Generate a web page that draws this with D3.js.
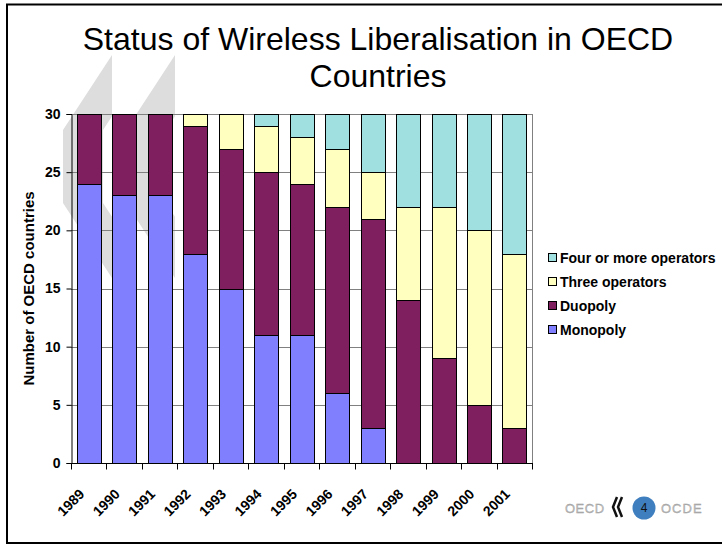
<!DOCTYPE html>
<html>
<head>
<meta charset="utf-8">
<script src="https://cdn.jsdelivr.net/npm/d3@7"></script>
<style>
  body { margin: 0; background: #fff; }
  svg { display: block; font-family: Arial, "Liberation Sans", sans-serif; }
</style>
</head>
<body>
<svg id="chart" width="722" height="545"></svg>
<script>
const years = ["1989", "1990", "1991", "1992", "1993", "1994", "1995", "1996", "1997", "1998", "1999", "2000", "2001"];
const monopoly = [24, 23, 23, 18, 15, 11, 11, 6, 3, 0, 0, 0, 0];
const duopoly = [6, 7, 7, 11, 12, 14, 13, 16, 18, 14, 9, 5, 3];
const threeOps = [0, 0, 0, 1, 3, 4, 4, 5, 4, 8, 13, 15, 15];
const fourOps = [0, 0, 0, 0, 0, 1, 2, 3, 5, 8, 8, 10, 12];
const yTicks = [0, 5, 10, 15, 20, 25, 30];

const seriesNames = ["Monopoly", "Duopoly", "Three operators", "Four or more operators"];
const seriesColors = ["#8080ff", "#801f60", "#ffffc0", "#a0e0e0"];

let svg = d3.select("#chart");
let margin = { top: 114, left: 71, right: 190, bottom: 82 };
let width = 722, height = 545;

// frame
svg.append("rect")
  .attr("x", 7).attr("y", 4.5)
  .attr("width", 722).attr("height", 538.5)
  .attr("fill", "none").attr("stroke", "#000").attr("stroke-width", 2);

// title
let title = svg.append("text")
  .attr("text-anchor", "middle")
  .attr("font-size", 32)
  .attr("fill", "#000");
title.append("tspan").attr("x", 378).attr("y", 50).text("Status of Wireless Liberalisation in OECD");
title.append("tspan").attr("x", 378).attr("y", 87).text("Countries");

// background chevrons (logo decoration)
let t = 40;
let chev = [[49, 0], [0, 75], [0, 148], [49, 223], [49, 148 + 75 * (49 - t) / 49], [t, 148], [t, 75], [49, 75 - 75 * (49 - t) / 49]];
[63, 126].forEach((x0) => {
  svg.append("path")
    .attr("d", d3.line()(chev.map((p) => [p[0] + x0, p[1] + 55])) + "Z")
    .attr("fill", "#dddddd");
});

let table = years.map((y, i) => ({
  year: y,
  "Monopoly": monopoly[i],
  "Duopoly": duopoly[i],
  "Three operators": threeOps[i],
  "Four or more operators": fourOps[i]
}));

let x = d3.scaleBand()
  .domain(years)
  .range([margin.left, width - margin.right])
  .paddingInner(1 / 3)
  .paddingOuter(1 / 6);

let y = d3.scaleLinear()
  .domain([0, 30])
  .range([height - margin.bottom, margin.top]);

// gridlines
svg.append("g")
  .selectAll("line")
  .data(yTicks.filter((d) => d > 0))
  .enter()
  .append("line")
  .attr("x1", margin.left).attr("x2", width - margin.right)
  .attr("y1", (d) => Math.round(y(d)) + 0.5).attr("y2", (d) => Math.round(y(d)) + 0.5)
  .attr("stroke", "#808080").attr("stroke-width", 1);
svg.append("line")
  .attr("x1", width - margin.right + 0.5).attr("x2", width - margin.right + 0.5)
  .attr("y1", y(30)).attr("y2", y(0))
  .attr("stroke", "#808080");

// bars
let stacked = d3.stack().keys(seriesNames)(table);
svg.append("g")
  .selectAll("g")
  .data(stacked)
  .enter()
  .append("g")
  .attr("fill", (d, i) => seriesColors[i])
  .selectAll("rect")
  .data((d) => d.filter((s) => s[1] - s[0] > 0))
  .enter()
  .append("rect")
  .attr("x", (d) => Math.round(x(d.data.year)) + 0.5)
  .attr("y", (d) => Math.round(y(d[1])) + 0.5)
  .attr("width", Math.round(x.bandwidth()))
  .attr("height", (d) => Math.round(y(d[0])) - Math.round(y(d[1])))
  .attr("stroke", "#000")
  .attr("stroke-width", 1);

// y axis
let yAxis = svg.append("g")
  .attr("transform", `translate(${margin.left + 0.5},0)`)
  .call(d3.axisLeft(y).tickValues(yTicks).tickSize(5).tickPadding(6));
yAxis.select(".domain").attr("stroke", "#000");
yAxis.selectAll("text")
  .attr("font-size", 14).attr("font-weight", "bold")
  .attr("font-family", "Arial, 'Liberation Sans', sans-serif").attr("fill", "#000");

// x axis with ticks at category boundaries
let xBase = Math.round(y(0)) + 0.5;
svg.append("line")
  .attr("x1", margin.left).attr("x2", width - margin.right + 1)
  .attr("y1", xBase).attr("y2", xBase)
  .attr("stroke", "#000");
let step = x.step();
svg.append("g")
  .selectAll("line")
  .data(d3.range(years.length + 1))
  .enter()
  .append("line")
  .attr("x1", (i) => Math.round(margin.left + i * step) + 0.5)
  .attr("x2", (i) => Math.round(margin.left + i * step) + 0.5)
  .attr("y1", xBase).attr("y2", xBase + 6)
  .attr("stroke", "#000");

svg.append("g")
  .selectAll("text")
  .data(years)
  .enter()
  .append("text")
  .attr("transform", (d) => `translate(${x(d) + x.bandwidth() / 2 - 7},491.5) rotate(-45)`)
  .attr("text-anchor", "end")
  .attr("dy", "0.35em")
  .attr("font-size", 14).attr("font-weight", "bold")
  .text((d) => d);

// y title
svg.append("text")
  .attr("transform", `translate(34,${(y(0) + y(30)) / 2}) rotate(-90)`)
  .attr("text-anchor", "middle")
  .attr("font-size", 15).attr("font-weight", "bold")
  .text("Number of OECD countries");

// legend
let legendOrder = [3, 2, 1, 0];
let legend = svg.append("g")
  .selectAll("g")
  .data(legendOrder)
  .enter()
  .append("g")
  .attr("transform", (d, i) => `translate(548,${258 + i * 24})`);
legend.append("rect")
  .attr("x", 0.5).attr("y", -4.5)
  .attr("width", 8).attr("height", 8)
  .attr("fill", (d) => seriesColors[d])
  .attr("stroke", "#000");
legend.append("text")
  .attr("x", 12).attr("dy", "0.35em")
  .attr("font-size", 14).attr("font-weight", "bold")
  .text((d) => seriesNames[d]);

// footer logo
let logo = svg.append("g");
logo.append("text")
  .attr("x", 565).attr("y", 513)
  .attr("font-size", 13).attr("letter-spacing", 0.5)
  .attr("fill", "#bbbbbb").attr("stroke", "#999").attr("stroke-width", 0.3)
  .text("OECD");
[613, 618].forEach((cx) => {
  logo.append("path")
    .attr("d", `M${cx + 4},497 L${cx},507 L${cx + 4},517`)
    .attr("fill", "none").attr("stroke", "#111").attr("stroke-width", 2.5);
});
logo.append("circle")
  .attr("cx", 644).attr("cy", 508).attr("r", 11.5)
  .attr("fill", "#3f7fbf");
logo.append("text")
  .attr("x", 644).attr("y", 508).attr("dy", "0.35em")
  .attr("text-anchor", "middle")
  .attr("font-size", 12).attr("fill", "#111")
  .text("4");
logo.append("text")
  .attr("x", 661).attr("y", 513)
  .attr("font-size", 13).attr("letter-spacing", 1)
  .attr("fill", "#bbbbbb").attr("stroke", "#999").attr("stroke-width", 0.3)
  .text("OCDE");
</script>
</body>
</html>
